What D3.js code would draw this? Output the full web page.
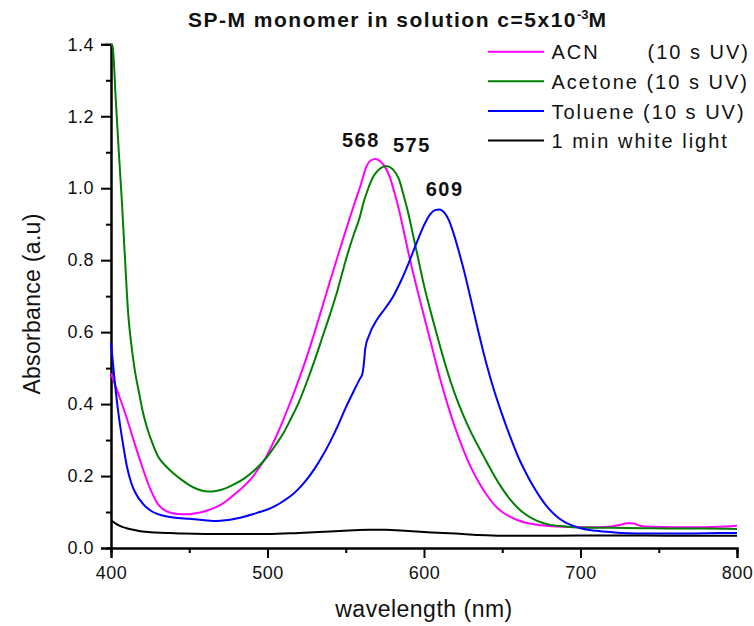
<!DOCTYPE html>
<html>
<head>
<meta charset="utf-8">
<script src="https://cdn.jsdelivr.net/npm/d3@7"></script>
<style>
  html, body { margin: 0; padding: 0; background: #fff; }
  svg { display: block; font-family: Arial, "Liberation Sans", sans-serif; }
</style>
</head>
<body>
<svg id="chart" width="754" height="626"></svg>
<script>
// ---------- data ----------
const xTicks = [400, 500, 600, 700, 800];
const yTicks = [0.0, 0.2, 0.4, 0.6, 0.8, 1.0, 1.2, 1.4];

const acn = [
  [400,0.485],[405,0.425],[410,0.362],[415,0.292],[420,0.225],[425,0.165],[430,0.122],[435,0.103],
  [440,0.096],[445,0.094],[450,0.094],[455,0.097],[460,0.102],[465,0.11],[470,0.12],[475,0.135],
  [480,0.153],[485,0.172],[490,0.195],[495,0.225],[500,0.26],[505,0.305],[510,0.355],[515,0.41],
  [520,0.468],[525,0.53],[530,0.598],[535,0.67],[540,0.742],[545,0.813],[550,0.882],[555,0.95],
  [560,1.015],[563,1.058],[566,1.077],[569,1.081],[572,1.075],[575,1.06],[578,1.033],[581,0.99],
  [584,0.94],[587,0.882],[590,0.822],[595,0.73],[600,0.645],[605,0.56],[610,0.475],[615,0.40],
  [620,0.333],[625,0.275],[630,0.224],[635,0.183],[640,0.148],[645,0.12],[650,0.10],[655,0.087],
  [660,0.077],[665,0.07],[670,0.066],[680,0.061],[690,0.059],[700,0.058],[710,0.058],[720,0.06],
  [725,0.064],[730,0.069],[734,0.068],[738,0.062],[745,0.059],[760,0.058],[780,0.058],[800,0.062]
];

const acetone = [
  [400,1.40],[401,1.395],[403,1.25],[405,1.10],[407,0.96],[409,0.80],[411,0.65],[413,0.565],
  [415,0.50],[418,0.43],[420,0.385],[423,0.335],[427,0.285],[430,0.255],[435,0.228],[440,0.207],
  [445,0.19],[450,0.175],[455,0.164],[460,0.158],[465,0.157],[470,0.161],[475,0.169],[480,0.18],
  [485,0.193],[490,0.21],[495,0.23],[500,0.255],[505,0.285],[510,0.318],[515,0.36],[520,0.405],
  [525,0.46],[530,0.52],[535,0.585],[540,0.65],[545,0.72],[550,0.80],[555,0.87],[559,0.92],
  [561,0.955],[564,0.995],[568,1.035],[572,1.055],[576,1.062],[580,1.053],[584,1.025],[587,0.98],
  [590,0.93],[593,0.87],[596,0.81],[600,0.73],[605,0.645],[610,0.565],[615,0.49],[620,0.425],
  [625,0.37],[630,0.322],[635,0.28],[640,0.24],[645,0.2],[650,0.165],[655,0.135],[660,0.111],
  [665,0.093],[670,0.08],[675,0.071],[680,0.065],[690,0.06],[700,0.057],[720,0.056],[740,0.055],
  [760,0.054],[780,0.054],[800,0.053]
];

const toluene = [
  [400,0.57],[402,0.48],[404,0.40],[406,0.335],[408,0.28],[410,0.23],[413,0.18],[416,0.15],
  [420,0.125],[425,0.105],[430,0.094],[435,0.088],[440,0.085],[450,0.081],[460,0.077],[465,0.075],
  [470,0.076],[475,0.078],[480,0.082],[485,0.087],[490,0.093],[495,0.10],[500,0.107],[505,0.117],
  [510,0.13],[515,0.145],[520,0.165],[525,0.19],[530,0.22],[535,0.255],[540,0.295],[545,0.34],
  [550,0.39],[555,0.435],[559,0.47],[560.5,0.482],[561.5,0.51],[562.5,0.555],[565,0.592],[570,0.635],
  [575,0.665],[580,0.697],[585,0.74],[590,0.79],[595,0.845],[600,0.897],[604,0.928],[607,0.939],
  [610,0.941],[613,0.932],[616,0.91],[619,0.873],[622,0.828],[625,0.78],[630,0.69],[635,0.597],
  [640,0.51],[645,0.435],[650,0.37],[655,0.31],[660,0.255],[665,0.21],[670,0.17],[675,0.136],
  [680,0.108],[685,0.087],[690,0.072],[695,0.062],[700,0.055],[710,0.048],
  [720,0.044],[740,0.04],[760,0.04],[780,0.041],[800,0.042]
];

const whiteLight = [
  [400,0.077],[403,0.068],[406,0.061],[410,0.055],[415,0.05],[420,0.046],[425,0.044],[435,0.042],
  [446,0.04],[460,0.039],[480,0.039],[500,0.039],[520,0.042],[540,0.046],[555,0.049],[565,0.051],
  [575,0.051],[590,0.047],[605,0.043],[620,0.04],[635,0.036],[650,0.034],[680,0.034],[720,0.035],
  [760,0.034],[800,0.034]
];

const seriesNames = ["ACN", "Acetone (10 s UV)", "Toluene (10 s UV)", "1 min white light"];
const seriesColors = ["#ff00ff", "#008000", "#0000ff", "#000000"];
const seriesData = [acn, acetone, toluene, whiteLight];

const peakLabels = ["568", "575", "609"];
const peakPos = [[568, 1.081], [575, 1.062], [609, 0.941]];

// ---------- layout ----------
const svg = d3.select("#chart");
const x = d3.scaleLinear().domain([400, 800]).range([111, 737]);
const y = d3.scaleLinear().domain([0, 1.4]).range([548, 44.3]);

// axes
const xAxis = d3.axisBottom(x).tickValues(xTicks).tickSize(10).tickPadding(6).tickFormat(d3.format("d"));
const xMinor = d3.axisBottom(x).tickValues(d3.range(450, 800, 100)).tickSize(5).tickFormat("");
const yAxis = d3.axisLeft(y).tickValues(yTicks).tickSize(10).tickPadding(7).tickFormat(d3.format(".1f"));
const yMinor = d3.axisLeft(y).tickValues(d3.range(0.1, 1.4, 0.2)).tickSize(5).tickFormat("");

function styleAxis(g) {
  g.select(".domain").attr("stroke", "#000").attr("stroke-width", 2);
  g.selectAll(".tick line").attr("stroke", "#000").attr("stroke-width", 2);
  g.selectAll(".tick text").attr("fill", "#111").style("font-size", "18px")
    .style("letter-spacing", "0.5px").style("font-family", "Arial, 'Liberation Sans', sans-serif");
}

svg.append("g").attr("transform", "translate(0,548)").call(xMinor).call(styleAxis);
svg.append("g").attr("transform", "translate(0,548)").call(xAxis).call(styleAxis)
  .selectAll(".tick text").attr("dy", "0.71em").attr("y", 18);
svg.append("g").attr("transform", "translate(111,0)").call(yMinor).call(styleAxis);
svg.append("g").attr("transform", "translate(111,0)").call(yAxis).call(styleAxis);

// curves
const line = d3.line().x(d => x(d[0])).y(d => y(d[1])).curve(d3.curveMonotoneX);
seriesData.forEach((data, i) => {
  svg.append("path").datum(data)
    .attr("d", line)
    .attr("fill", "none")
    .attr("stroke", seriesColors[i])
    .attr("stroke-width", 2)
    .attr("stroke-linejoin", "round");
});

// peak labels
const peakOffsets = [[-13, -12], [27, -14], [6.5, -13.5]];
peakLabels.forEach((t, i) => {
  svg.append("text")
    .attr("x", x(peakPos[i][0]) + peakOffsets[i][0])
    .attr("y", y(peakPos[i][1]) + peakOffsets[i][1])
    .attr("text-anchor", "middle")
    .style("font-size", "20px").style("font-weight", "bold").style("letter-spacing", "1.5px")
    .attr("fill", "#111")
    .text(t);
});

// title
const title = svg.append("text").attr("x", 188).attr("y", 27)
  .style("font-size", "21px").style("font-weight", "bold").style("letter-spacing", "1.5px")
  .attr("fill", "#111");
title.append("tspan").text("SP-M monomer in solution c=5x10");
title.append("tspan").attr("dy", -8).style("font-size", "13px").style("letter-spacing", "0px").text("-3");
title.append("tspan").attr("dy", 8).text("M");

// axis titles
svg.append("text").attr("x", 424).attr("y", 617).attr("text-anchor", "middle")
  .style("font-size", "23px").style("letter-spacing", "0.5px").attr("fill", "#111")
  .text("wavelength (nm)");
svg.append("text").attr("transform", "translate(40,304) rotate(-90)").attr("text-anchor", "middle")
  .style("font-size", "23px").style("letter-spacing", "0.3px").attr("fill", "#111")
  .text("Absorbance (a.u)");

// legend
const legY = [51.7, 81.3, 111, 140.5];
seriesNames.forEach((name, i) => {
  svg.append("line").attr("x1", 488).attr("x2", 544).attr("y1", legY[i]).attr("y2", legY[i])
    .attr("stroke", seriesColors[i]).attr("stroke-width", 2);
  svg.append("text").attr("x", 551.5).attr("y", legY[i] + 7.5)
    .style("font-size", "20px").style("letter-spacing", "2px").attr("fill", "#111")
    .text(name);
});
svg.append("text").attr("x", 750).attr("y", legY[0] + 7.5).attr("text-anchor", "end")
  .style("font-size", "20px").style("letter-spacing", "2px").attr("fill", "#111")
  .text("(10 s UV)");
</script>
</body>
</html>
